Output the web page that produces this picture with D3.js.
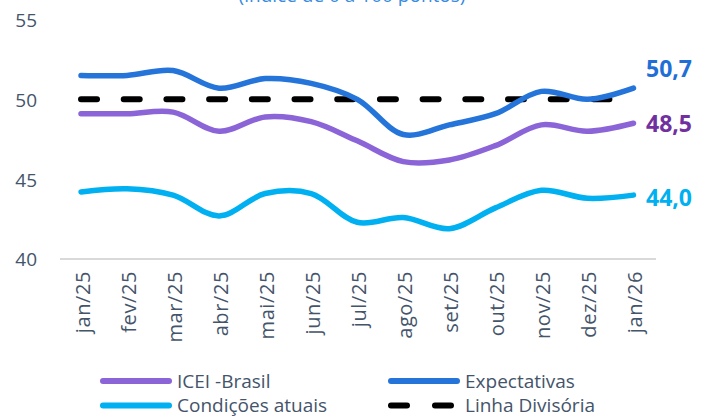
<!DOCTYPE html>
<html>
<head>
<meta charset="utf-8">
<script src="https://cdn.jsdelivr.net/npm/d3@7"></script>
<style>
  html, body { margin: 0; padding: 0; background: #fff; }
  svg { display: block; font-family: "Open Sans", "Noto Sans", sans-serif; }
</style>
</head>
<body>
<svg id="chart" width="708" height="417"></svg>
<script>
// ---- data ----
const months = ["jan/25","fev/25","mar/25","abr/25","mai/25","jun/25","jul/25","ago/25","set/25","out/25","nov/25","dez/25","jan/26"];
const icei = [49.1, 49.1, 49.2, 48.0, 48.9, 48.6, 47.4, 46.1, 46.2, 47.1, 48.4, 48.0, 48.5];
const expectativas = [51.5, 51.5, 51.8, 50.7, 51.3, 51.0, 50.0, 47.8, 48.4, 49.1, 50.5, 50.0, 50.7];
const condicoes = [44.2, 44.4, 44.0, 42.7, 44.1, 44.1, 42.3, 42.6, 41.9, 43.2, 44.3, 43.8, 44.0];
const divisoria = months.map(() => 50);
const yTicks = [40, 45, 50, 55];
const seriesNames = ["ICEI -Brasil", "Expectativas", "Condições atuais", "Linha Divisória"];
const endLabels = ["48,5", "50,7", "44,0"];
const title = "(índice de 0 a 100 pontos)";

// ---- layout ----
const svg = d3.select("#chart");
const x = d3.scalePoint().domain(months).range([58, 656.5]).padding(0.5);
const y = d3.scaleLinear().domain([40, 55]).range([259, 19.5]);

const textColor = "#44546A";

// title (partially cut off at top, as in the reference)
svg.append("text")
  .attr("x", 352).attr("y", 1.5)
  .attr("text-anchor", "middle")
  .attr("font-size", 19)
  .attr("fill", "#3A8BE0")
  .text(title);

// y axis labels
const yAxis = d3.axisLeft(y).tickValues(yTicks).tickSize(0).tickPadding(0).tickFormat(d3.format("d"));
const gy = svg.append("g").attr("transform", "translate(37,0)").call(yAxis);
gy.select(".domain").remove();
gy.selectAll("text").attr("font-size", 19).attr("fill", textColor)
  .attr("font-family", "\"Open Sans\", sans-serif").attr("dy", "0.36em").attr("x", 0);

// x axis
const xAxis = d3.axisBottom(x).tickSize(0).tickPadding(0);
const gx = svg.append("g").attr("transform", `translate(0,${y(40)})`).call(xAxis);
gx.select(".domain").attr("stroke", "#D9D9D9").attr("stroke-width", 2)
  .attr("d", `M60,0H656`);
gx.selectAll("text")
  .attr("font-size", 20).attr("fill", textColor)
  .attr("font-family", "\"Open Sans\", sans-serif")
  .attr("letter-spacing", "0.6px")
  .attr("text-anchor", "end")
  .attr("transform", "rotate(-90)")
  .attr("x", -12).attr("y", 0).attr("dy", "0.42em");

// lines
const line = d3.line()
  .x((d, i) => x(months[i]))
  .y(d => y(d))
  .curve(d3.curveCatmullRom.alpha(0.5));

const series = [
  { name: seriesNames[1], values: expectativas, color: "#2474D9" },
  { name: seriesNames[0], values: icei, color: "#8B64D8" },
  { name: seriesNames[2], values: condicoes, color: "#00B0F0" },
];

svg.append("path")
  .attr("d", d3.line().x((d, i) => x(months[i])).y(d => y(d))(divisoria))
  .attr("fill", "none").attr("stroke", "#000").attr("stroke-width", 6)
  .attr("stroke-linecap", "round").attr("stroke-dasharray", "16 26.7");

series.forEach(s => {
  svg.append("path")
    .attr("d", line(s.values))
    .attr("fill", "none").attr("stroke", s.color).attr("stroke-width", 5.5)
    .attr("stroke-linecap", "round").attr("stroke-linejoin", "round");
});

// end labels
const endInfo = [
  { text: endLabels[1], v: expectativas[12], color: "#1F6FD6", off: -19 },
  { text: endLabels[0], v: icei[12], color: "#7030A0", off: 0 },
  { text: endLabels[2], v: condicoes[12], color: "#00B0F0", off: 2.5 },
];
endInfo.forEach(e => {
  svg.append("text")
    .attr("x", 646).attr("y", y(e.v) + e.off)
    .attr("dy", "0.36em")
    .attr("font-size", 23).attr("font-weight", "bold")
    .attr("fill", e.color)
    .text(e.text);
});

// legend
const legend = [
  { name: seriesNames[0], color: "#8B64D8", dash: false, lx: 100, ly: 381 },
  { name: seriesNames[1], color: "#2474D9", dash: false, lx: 388, ly: 381 },
  { name: seriesNames[2], color: "#00B0F0", dash: false, lx: 100, ly: 405.5 },
  { name: seriesNames[3], color: "#000", dash: true, lx: 388, ly: 405.5 },
];
legend.forEach(l => {
  const g = svg.append("g");
  g.append("line")
    .attr("x1", l.lx + 3).attr("x2", l.lx + 69).attr("y1", l.ly).attr("y2", l.ly)
    .attr("stroke", l.color).attr("stroke-width", 6).attr("stroke-linecap", "round")
    .attr("stroke-dasharray", l.dash ? "16 28" : null);
  g.append("text")
    .attr("x", l.lx + 77).attr("y", l.ly).attr("dy", "0.36em")
    .attr("font-size", 19).attr("fill", textColor)
    .text(l.name);
});
</script>
</body>
</html>
